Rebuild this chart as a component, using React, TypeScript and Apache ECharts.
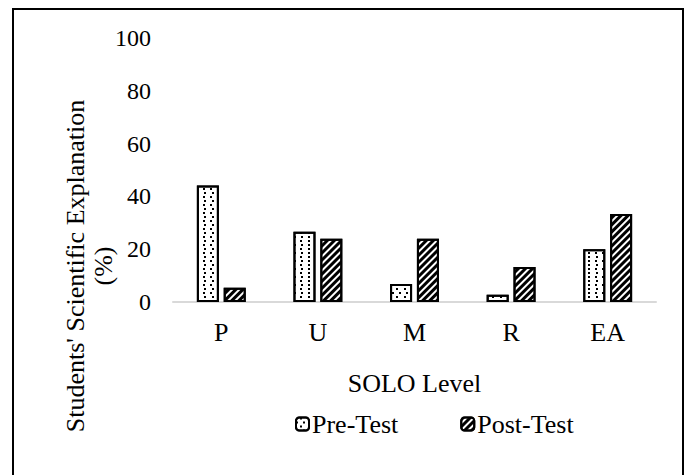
import React, { useEffect, useRef } from "react";
import * as echarts from "echarts";

const categories = ["P", "U", "M", "R", "EA"];
const preTest = [44.1, 26.6, 6.8, 2.7, 20.0];
const postTest = [5.4, 24.0, 24.0, 13.3, 33.3];
const seriesNames = ["Pre-Test", "Post-Test"];
const yTicks = { min: 0, max: 100, interval: 20 };
const xTitle = "SOLO Level";
const yTitle = "Students' Scientific Explanation\n(%)";

const FONT = "'Liberation Serif', 'DejaVu Serif', serif";

export default function App() {
  const ref = useRef<HTMLDivElement>(null);
  useEffect(() => {
    if (!ref.current) return;
    const chart = echarts.init(ref.current, null, { renderer: "svg" });
    const dotDecal = {
      symbol: "rect",
      symbolSize: 1,
      color: "#000",
      backgroundColor: "#fff",
      dashArrayX: [[2, 5], [0, 3.5, 2, 1.5]],
      dashArrayY: [2, 1.5],
      rotation: 0,
      maxTileWidth: 512,
      maxTileHeight: 512,
    };
    const stripeDecal = {
      symbol: "rect",
      symbolSize: 1,
      color: "#000",
      backgroundColor: "#fff",
      dashArrayX: [1, 0],
      dashArrayY: [3, 2],
      rotation: -Math.PI / 4,
      maxTileWidth: 512,
      maxTileHeight: 512,
    };
    chart.setOption({
      animation: false,
      backgroundColor: "#fff",
      textStyle: { fontFamily: FONT },
      grid: { left: 173, right: 31, top: 38, bottom: 173, containLabel: false },
      legend: {
        left: 290,
        top: 406,
        itemWidth: 13,
        itemHeight: 13,
        itemGap: 62,
        textStyle: { fontFamily: FONT, fontSize: 26, color: "#000", padding: [0, 0, 0, -2] },
        data: seriesNames,
      },
      xAxis: {
        type: "category",
        data: categories,
        name: xTitle,
        nameLocation: "middle",
        nameGap: 68,
        nameTextStyle: { fontFamily: FONT, fontSize: 26, color: "#000" },
        axisLine: { lineStyle: { color: "#d9d9d9", width: 2 } },
        axisTick: { show: false },
        axisLabel: { fontFamily: FONT, fontSize: 26, color: "#000", margin: 17 },
      },
      yAxis: {
        type: "value",
        min: yTicks.min,
        max: yTicks.max,
        interval: yTicks.interval,
        axisLine: { show: false },
        axisTick: { show: false },
        splitLine: { show: false },
        axisLabel: { fontFamily: FONT, fontSize: 24, color: "#000", margin: 22 },
      },
      graphic: [
        {
          type: "rect",
          shape: { x: 13, y: 9, width: 670, height: 500 },
          style: { fill: "none", stroke: "#000", lineWidth: 2 },
          silent: true,
        },
        {
          type: "text",
          x: 89,
          y: 266,
          rotation: Math.PI / 2,
          style: {
            text: yTitle,
            fontFamily: FONT,
            fontSize: 26,
            lineHeight: 28,
            fill: "#000",
            align: "center",
            verticalAlign: "middle",
          },
        },
      ],
      series: [
        {
          name: seriesNames[0],
          type: "bar",
          data: preTest,
          barWidth: 22,
          barGap: "22%",
          itemStyle: { color: "#fff", borderColor: "#000", borderWidth: 2, decal: dotDecal },
        },
        {
          name: seriesNames[1],
          type: "bar",
          data: postTest,
          barWidth: 22,
          barGap: "22%",
          itemStyle: { color: "#fff", borderColor: "#000", borderWidth: 2, decal: stripeDecal },
        },
      ],
    });
    return () => chart.dispose();
  }, []);
  return (
    <div
      ref={ref}
      style={{ position: "fixed", left: 0, top: 0, width: 687, height: 475 }}
    />
  );
}
